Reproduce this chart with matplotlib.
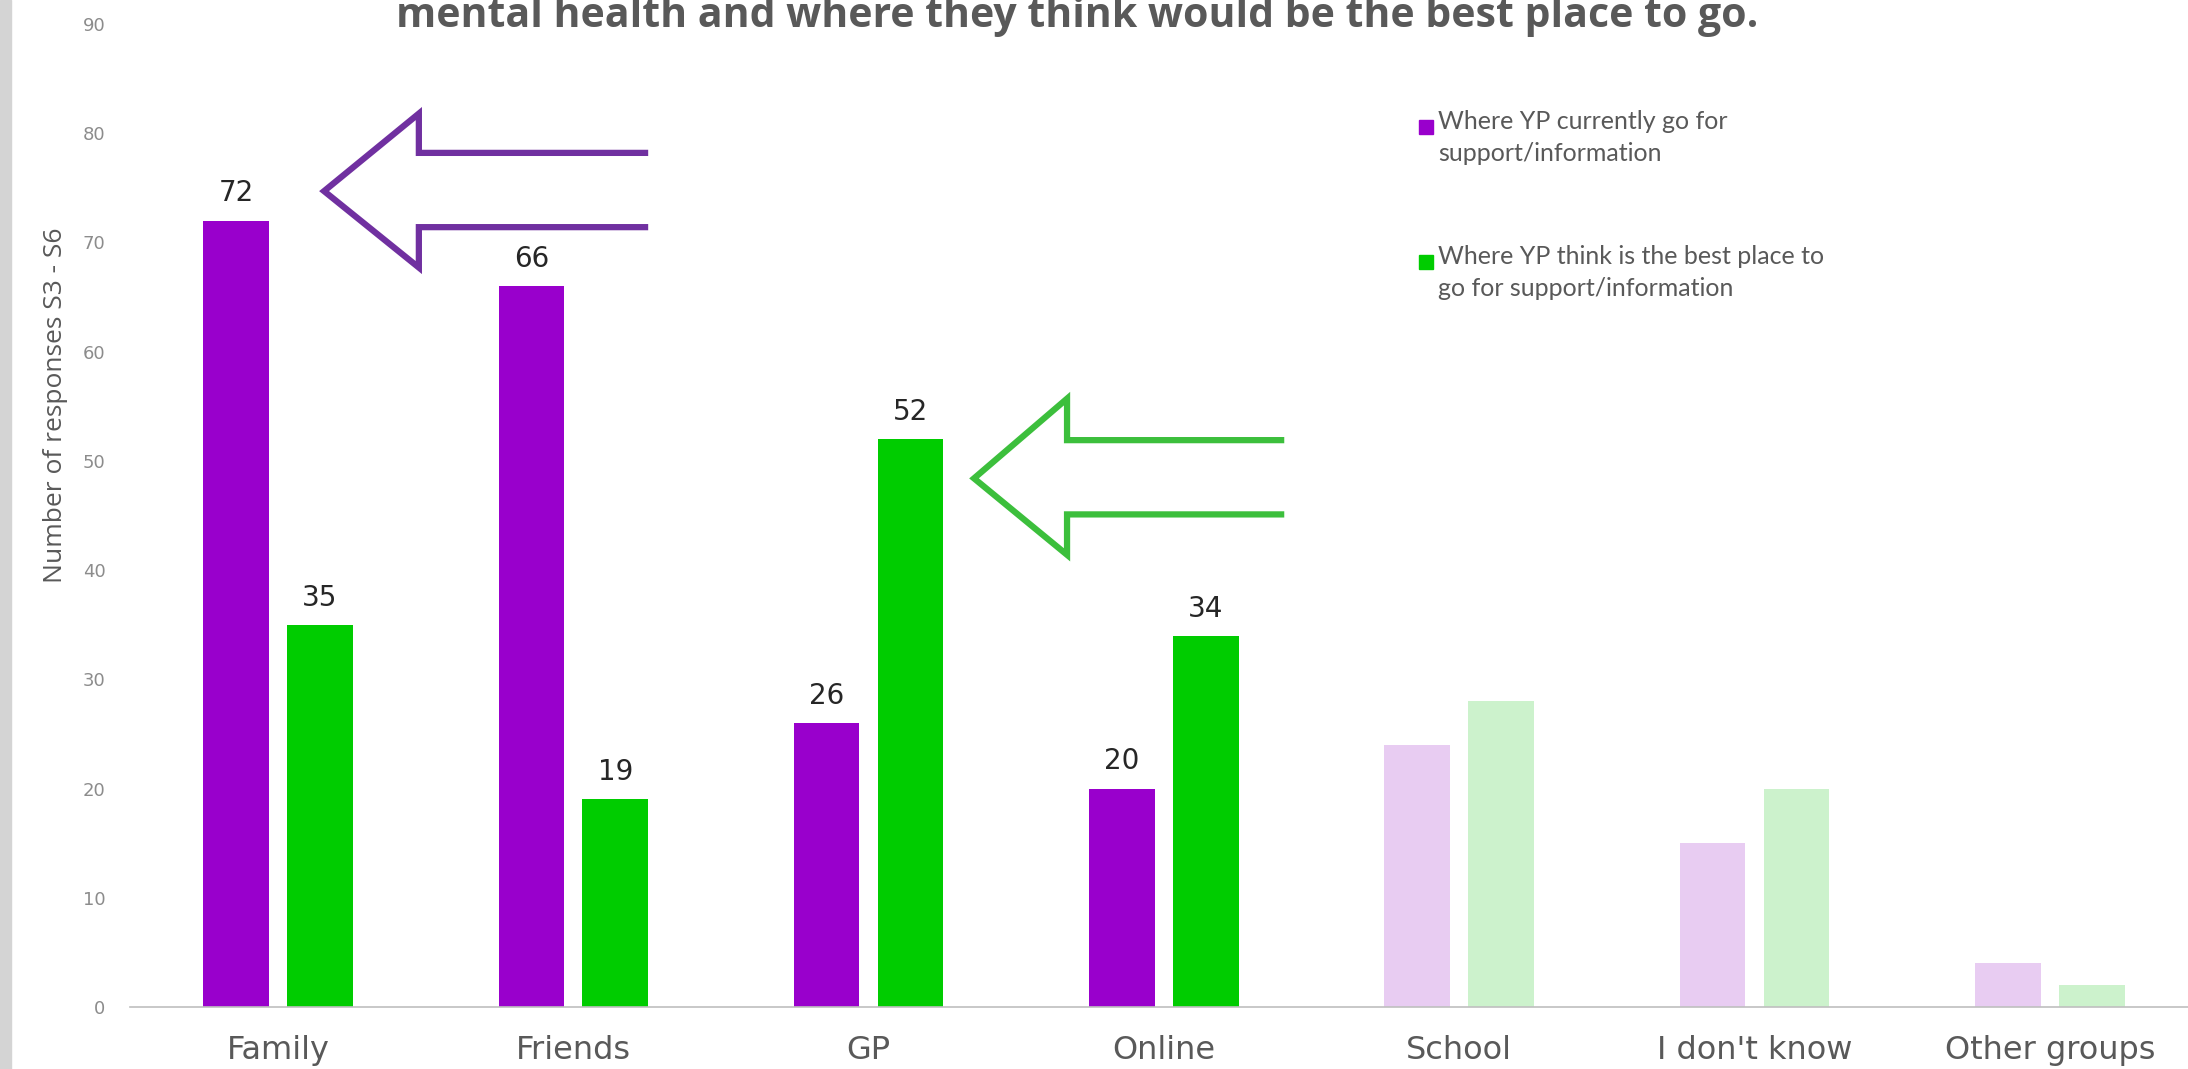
import matplotlib
matplotlib.use("Agg")
import matplotlib.pyplot as plt
from matplotlib.patches import Rectangle
import numpy as np

categories = ["Family", "Friends", "GP", "Online", "School", "I don't know", "Other groups"]
current = [72, 66, 26, 20, 24, 15, 4]
best = [35, 19, 52, 34, 28, 20, 2]
n_labelled = 4  # value labels only on the first four groups
yticks = [0, 10, 20, 30, 40, 50, 60, 70, 80, 90]

legend_labels = ["Where YP currently go for\nsupport/information",
                 "Where YP think is the best place to\ngo for support/information"]
title = "mental health and where they think would be the best place to go."
ylabel = "Number of responses S3 - S6"

purple = "#9900cc"
green = "#00cc00"
purple_pale = "#e8ccf2"
green_pale = "#ccf2cc"

W, H = 2188, 1069
fig = plt.figure(figsize=(W / 100, H / 100), dpi=100)

# axes placed in pixels: category 0 at x=278, spacing 295.3 px; y 0 at 1007, 90 at 24
left = 278 - 0.5 * 295.3
ax = fig.add_axes([left / W, (H - 1007) / H, 7 * 295.3 / W, (1007 - 24) / H])

x = np.arange(len(categories))
bw = 0.222
off = 0.142
cols_p = [purple if i < n_labelled else purple_pale for i in x]
cols_g = [green if i < n_labelled else green_pale for i in x]
ax.bar(x - off, current, bw, color=cols_p, zorder=2)
ax.bar(x + off, best, bw, color=cols_g, zorder=2)

for i in range(n_labelled):
    ax.text(i - off, current[i] + 1.2, str(current[i]), ha="center", va="bottom",
            fontsize=20, color="#262626")
    ax.text(i + off, best[i] + 1.2, str(best[i]), ha="center", va="bottom",
            fontsize=20, color="#262626")

ax.set_xlim(-0.5, 6.5)
ax.set_ylim(0, 90)
ax.set_yticks(yticks)
ax.set_yticklabels([str(t) for t in yticks], fontsize=13, color="#8c8c8c")
ax.set_xticks(x)
ax.set_xticklabels(categories, fontsize=23, color="#595959")
ax.tick_params(axis="both", length=0)
ax.tick_params(axis="y", pad=18)
ax.tick_params(axis="x", pad=20)
for s in ["top", "right", "left"]:
    ax.spines[s].set_visible(False)
ax.spines["bottom"].set_color("#bfbfbf")
ax.spines["bottom"].set_linewidth(1.2)

# hollow block arrows pointing at the highlighted bars (data coordinates)
def block_arrow(tip_x, tip_y, base_x, head_top, head_bot, sh_top, sh_bot, end_x, color):
    xs = [end_x, base_x, base_x, tip_x, base_x, base_x, end_x]
    ys = [sh_top, sh_top, head_top, tip_y, head_bot, sh_bot, sh_bot]
    ax.plot(xs, ys, color=color, lw=4.5, solid_joinstyle="miter", clip_on=False, zorder=3)

block_arrow(0.156, 74.7, 0.477, 81.8, 67.7, 78.2, 71.4, 1.243, "#7030a0")
block_arrow(2.357, 48.4, 2.672, 55.7, 41.4, 51.9, 45.1, 3.397, "#3cbf3c")

# legend drawn as squares and two-line labels
for k, (lab, c) in enumerate(zip(legend_labels, [purple, green])):
    y_top = 1 - (118 + k * 135) / H
    fig.patches.append(Rectangle((1419 / W, y_top - 16 / H), 14 / W, 14 / H,
                                 transform=fig.transFigure, color=c))
    fig.text(1438 / W, y_top + 8 / H, lab, fontsize=18, color="#595959",
             family=["Lato", "DejaVu Sans"], va="top", linespacing=1.45)

fig.text(56 / W, 1 - 405 / H, ylabel, rotation=90, ha="center", va="center",
         fontsize=19, color="#595959",
         family=["Liberation Sans Narrow", "Open Sans", "DejaVu Sans"])

# title line is partly cropped at the top edge, as in the source image
fig.text(1077 / W, 1 - 27 / H, title, ha="center", va="baseline", fontsize=29.5,
         fontweight="bold", color="#595959", family=["Open Sans", "DejaVu Sans"])

# grey strip along the left edge
fig.patches.append(Rectangle((0, 0), 11 / W, 1, transform=fig.transFigure, color="#d4d4d4"))

fig.savefig("out.png", dpi=100)
